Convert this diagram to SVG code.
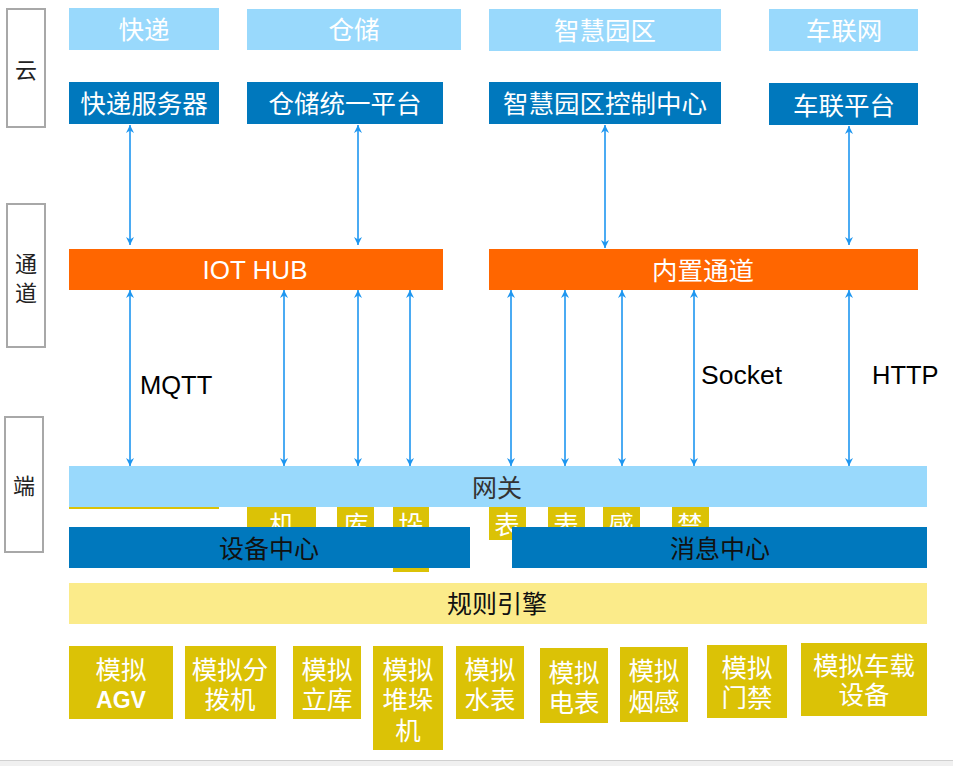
<svg xmlns="http://www.w3.org/2000/svg" width="953" height="766" viewBox="0 0 953 766">
<style>
.cn{font-family:"Noto Sans CJK SC","Noto Sans",sans-serif}
.lt{fill:#99D9FC}
.dk{fill:#0078BD}
.or{fill:#FF6600}
.yl{fill:#DBC206}
.pale{fill:#FBEB8A}
.side{fill:#fff;stroke:#A8A8A8;stroke-width:2}
.wt{fill:#fff;font-size:25.5px;text-anchor:middle}
.bt{fill:#111;font-size:25px;text-anchor:middle}
.sl{fill:#222;font-size:22px;text-anchor:middle}
.en{font-family:"Liberation Sans",Arial,sans-serif;font-size:25.5px;fill:#000}
.conn line{stroke:#1E96F0;stroke-width:1.6;marker-start:url(#ah);marker-end:url(#ah)}
</style>
<defs>
<marker id="ah" viewBox="0 0 10 10" refX="10" refY="5" markerWidth="8" markerHeight="8" markerUnits="userSpaceOnUse" orient="auto-start-reverse">
<path d="M0,0 L10,5 L0,10 L3,5 z" fill="#1E96F0"/>
</marker>
</defs>
<rect width="953" height="766" fill="#fff"/>
<rect x="0" y="760" width="953" height="6" fill="#F0F0F0"/>
<line x1="0" y1="760.5" x2="953" y2="760.5" stroke="#D0D0D0"/>

<g id="side-cloud"><rect class="side" x="7" y="9" width="38" height="118"/><text class="cn sl" x="26" y="78">云</text></g>
<g id="side-channel"><rect class="side" x="7" y="204" width="38" height="143"/><text class="cn sl" x="26" y="272">通</text><text class="cn sl" x="26" y="301">道</text></g>
<g id="side-end"><rect class="side" x="5" y="417" width="38" height="135"/><text class="cn sl" x="24" y="494">端</text></g>

<g id="cloud-express"><rect class="lt" x="69" y="8" width="150" height="42"/><text class="cn wt" x="144" y="39">快递</text></g>
<g id="cloud-storage"><rect class="lt" x="247" y="9" width="214" height="41"/><text class="cn wt" x="354" y="39">仓储</text></g>
<g id="cloud-park"><rect class="lt" x="489" y="9" width="232" height="42"/><text class="cn wt" x="605" y="40">智慧园区</text></g>
<g id="cloud-iov"><rect class="lt" x="769" y="9" width="149" height="42"/><text class="cn wt" x="844" y="40">车联网</text></g>

<g id="express-server"><rect class="dk" x="69" y="82" width="150" height="42"/><text class="cn wt" x="144" y="113">快递服务器</text></g>
<g id="storage-platform"><rect class="dk" x="247" y="82" width="196" height="42"/><text class="cn wt" x="345" y="113">仓储统一平台</text></g>
<g id="park-control"><rect class="dk" x="489" y="82" width="232" height="42"/><text class="cn wt" x="605" y="113">智慧园区控制中心</text></g>
<g id="iov-platform"><rect class="dk" x="769" y="83" width="149" height="42"/><text class="cn wt" x="844" y="115">车联平台</text></g>

<g id="iot-hub"><rect class="or" x="69" y="249" width="374" height="41"/><text x="255" y="279" text-anchor="middle" fill="#fff" font-family="Liberation Sans, Arial, sans-serif" font-size="26">IOT HUB</text></g>
<g id="builtin-channel"><rect class="or" x="489" y="249" width="429" height="41"/><text class="cn wt" x="703" y="280">内置通道</text></g>

<g id="conn" class="conn">
<line x1="130" y1="125" x2="130" y2="245"/>
<line x1="358" y1="125" x2="358" y2="245"/>
<line x1="605" y1="125" x2="605" y2="248"/>
<line x1="849" y1="126" x2="849" y2="245"/>
<line x1="130" y1="290" x2="130" y2="466"/>
<line x1="284" y1="290" x2="284" y2="466"/>
<line x1="358" y1="290" x2="358" y2="466"/>
<line x1="410" y1="290" x2="410" y2="466"/>
<line x1="511" y1="290" x2="511" y2="466"/>
<line x1="565" y1="290" x2="565" y2="466"/>
<line x1="622" y1="290" x2="622" y2="466"/>
<line x1="694" y1="290" x2="694" y2="466"/>
<line x1="849" y1="290" x2="849" y2="466"/>
</g>
<text class="en" x="140" y="394">MQTT</text>
<text class="en" x="701" y="384" style="font-size:26.5px">Socket</text>
<text class="en" x="872" y="384">HTTP</text>

<g id="hidden-devices">
<rect class="yl" x="69" y="480" width="150" height="29"/>
<rect class="yl" x="247" y="480" width="69" height="60"/><text class="cn wt" x="282" y="534">机</text>
<rect class="yl" x="337" y="480" width="37" height="60"/><text class="cn wt" x="356" y="534">库</text>
<rect class="yl" x="393" y="480" width="36" height="92"/><text class="cn wt" x="411" y="534">垛</text>
<rect class="yl" x="489" y="480" width="37" height="60"/><text class="cn wt" x="507" y="534">表</text>
<rect class="yl" x="548" y="480" width="37" height="60"/><text class="cn wt" x="566" y="534">表</text>
<rect class="yl" x="603" y="480" width="37" height="60"/><text class="cn wt" x="621" y="534">感</text>
<rect class="yl" x="672" y="480" width="37" height="60"/><text class="cn wt" x="690" y="534">禁</text>
</g>

<g id="gateway"><rect class="lt" x="69" y="466" width="858" height="41"/><text class="cn bt" x="497" y="497" style="fill:#333">网关</text></g>
<g id="device-center"><rect class="dk" x="69" y="527" width="401" height="41"/><text class="cn bt" x="269" y="558">设备中心</text></g>
<g id="message-center"><rect class="dk" x="512" y="527" width="415" height="41"/><text class="cn bt" x="720" y="558">消息中心</text></g>
<g id="rule-engine"><rect class="pale" x="69" y="583" width="858" height="41"/><text class="cn bt" x="497" y="613">规则引擎</text></g>

<g id="sim-agv"><rect class="yl" x="69" y="646" width="104" height="73"/><text class="cn wt" x="121" y="679">模拟</text><text x="121" y="708" text-anchor="middle" fill="#fff" font-weight="bold" font-family="Liberation Sans, Arial, sans-serif" font-size="23">AGV</text></g>
<g id="sim-sorter"><rect class="yl" x="185" y="646" width="91" height="73"/><text class="cn wt" x="230" y="679">模拟分</text><text class="cn wt" x="230" y="709">拨机</text></g>
<g id="sim-warehouse"><rect class="yl" x="293" y="646" width="68" height="73"/><text class="cn wt" x="327" y="679">模拟</text><text class="cn wt" x="327" y="709">立库</text></g>
<g id="sim-stacker"><rect class="yl" x="373" y="646" width="70" height="104"/><text class="cn wt" x="408" y="679">模拟</text><text class="cn wt" x="408" y="709">堆垛</text><text class="cn wt" x="408" y="740">机</text></g>
<g id="sim-water"><rect class="yl" x="456" y="646" width="68" height="73"/><text class="cn wt" x="490" y="679">模拟</text><text class="cn wt" x="490" y="709">水表</text></g>
<g id="sim-power"><rect class="yl" x="540" y="648" width="68" height="75"/><text class="cn wt" x="574" y="682">模拟</text><text class="cn wt" x="574" y="712">电表</text></g>
<g id="sim-smoke"><rect class="yl" x="620" y="647" width="68" height="75"/><text class="cn wt" x="654" y="680">模拟</text><text class="cn wt" x="654" y="711">烟感</text></g>
<g id="sim-door"><rect class="yl" x="707" y="645" width="80" height="73"/><text class="cn wt" x="747" y="677">模拟</text><text class="cn wt" x="747" y="707">门禁</text></g>
<g id="sim-vehicle"><rect class="yl" x="801" y="643" width="126" height="73"/><text class="cn wt" x="864" y="675">模拟车载</text><text class="cn wt" x="864" y="704">设备</text></g>
</svg>
